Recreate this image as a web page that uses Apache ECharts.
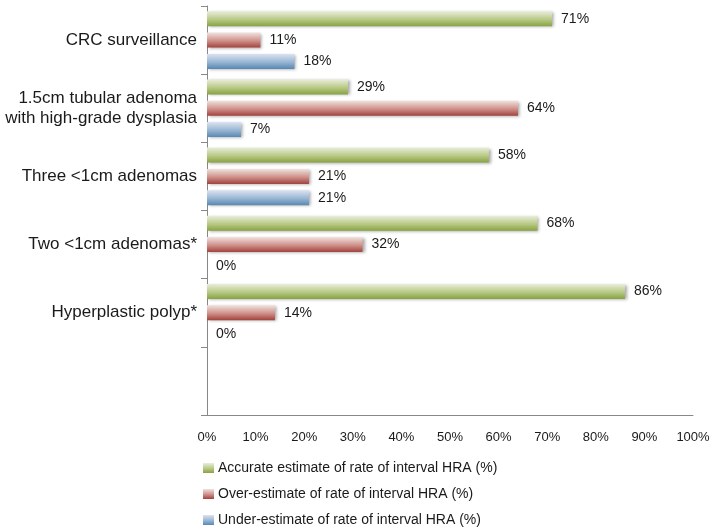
<!DOCTYPE html>
<html>
<head>
<meta charset="utf-8">
<script src="https://cdn.jsdelivr.net/npm/echarts@6/dist/echarts.min.js"></script>
<style>html,body{margin:0;padding:0;background:#fff}#c{width:714px;height:529px}</style>
</head>
<body>
<div id="c"></div>
<script>
var categories = ['CRC surveillance', '1.5cm tubular adenoma\nwith high-grade dysplasia', 'Three <1cm adenomas', 'Two <1cm adenomas*', 'Hyperplastic polyp*', ''];
var xTicks = [0, 10, 20, 30, 40, 50, 60, 70, 80, 90, 100];
var seriesNames = ['Accurate estimate of rate of interval HRA (%)', 'Over-estimate of rate of interval HRA (%)', 'Under-estimate of rate of interval HRA (%)'];
var accurate = [71, 29, 58, 68, 86, null];
var over = [11, 64, 21, 32, 14, null];
var under = [18, 7, 21, 0, 0, null];

var grads = [
  ['#e8eddb', '#b8c984', '#88a242'],
  ['#efe2dd', '#cf8f89', '#a2423d'],
  ['#dbe3f0', '#98b5d4', '#5888b2']
];
function grad(c) {
  return new echarts.graphic.LinearGradient(0, 0, 0, 1, [
    {offset: 0, color: c[0]}, {offset: 0.55, color: c[1]}, {offset: 1, color: c[2]}
  ]);
}
var values = [accurate, over, under];
var series = seriesNames.map(function (n, i) {
  return {
    name: n,
    type: 'bar',
    data: values[i],
    barWidth: 15,
    barGap: '42%',
    itemStyle: {
      color: grad(grads[i]),
      shadowColor: 'rgba(0,0,0,0.35)',
      shadowBlur: 3,
      shadowOffsetX: 2,
      shadowOffsetY: 1
    },
    label: {
      show: true,
      position: 'right',
      distance: 9,
      color: '#1a1a1a',
      fontSize: 14,
      fontFamily: 'Liberation Sans, Arial, sans-serif',
      formatter: function (p) { return p.value == null ? '' : p.value + '%'; }
    }
  };
});

var chart = echarts.init(document.getElementById('c'), null, {renderer: 'canvas'});
chart.setOption({
  animation: false,
  backgroundColor: '#fff',
  grid: {left: 207, right: 21, top: 6, bottom: 114, containLabel: false},
  xAxis: {
    type: 'value',
    min: xTicks[0],
    max: xTicks[xTicks.length - 1],
    interval: xTicks[1] - xTicks[0],
    axisLine: {show: true, lineStyle: {color: '#888', width: 1}},
    axisTick: {show: false},
    splitLine: {show: false},
    axisLabel: {
      formatter: '{value}%',
      color: '#1a1a1a',
      fontSize: 13,
      fontFamily: 'Liberation Sans, Arial, sans-serif',
      margin: 16
    }
  },
  yAxis: {
    type: 'category',
    data: categories,
    inverse: true,
    axisLine: {show: true, lineStyle: {color: '#888', width: 1}},
    axisTick: {show: true, length: 6, lineStyle: {color: '#888'}},
    axisLabel: {
      color: '#1a1a1a',
      fontSize: 17,
      lineHeight: 20,
      align: 'right',
      margin: 10,
      fontFamily: 'Liberation Sans, Arial, sans-serif'
    }
  },
  legend: {
    orient: 'vertical',
    left: 203,
    top: 460,
    height: 69,
    padding: 0,
    itemWidth: 11,
    itemHeight: 10,
    itemGap: 10,
    icon: 'rect',
    data: seriesNames,
    textStyle: {
      color: '#1a1a1a',
      fontSize: 14,
      lineHeight: 16,
      fontFamily: 'Liberation Sans, Arial, sans-serif',
      padding: [0, 0, 0, -1]
    }
  },
  series: series
});
</script>
</body>
</html>
